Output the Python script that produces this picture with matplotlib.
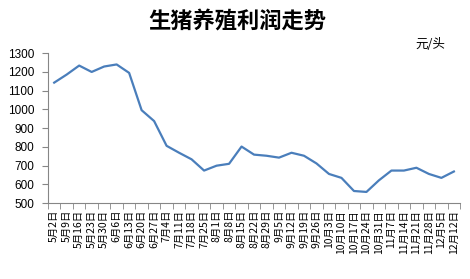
import numpy as np
import matplotlib
matplotlib.use("Agg")
import matplotlib.pyplot as plt
from matplotlib.ticker import FixedLocator, NullFormatter

plt.rcParams['font.family'] = ['Noto Sans CJK SC', 'DejaVu Sans']

# ---------------------------------------------------------------------------
# Données
# ---------------------------------------------------------------------------
dates = [
    "5月2日", "5月9日", "5月16日", "5月23日", "5月30日", "6月6日", "6月13日",
    "6月20日", "6月27日", "7月4日", "7月11日", "7月18日", "7月25日", "8月1日",
    "8月8日", "8月15日", "8月22日", "8月29日", "9月5日", "9月12日", "9月19日",
    "9月26日", "10月3日", "10月10日", "10月17日", "10月24日", "10月31日",
    "11月7日", "11月14日", "11月21日", "11月28日", "12月5日", "12月12日",
]
profit = [
    1142, 1185, 1233, 1199, 1228, 1239, 1194, 995, 937, 805, 768, 733, 673,
    699, 709, 801, 758, 752, 742, 768, 752, 711, 655, 634, 564, 559, 621,
    673, 673, 688, 655, 634, 668,
]
yticks = list(range(500, 1301, 100))

# ---------------------------------------------------------------------------
# Figure
# ---------------------------------------------------------------------------
fig = plt.figure(figsize=(4.7, 2.79), dpi=100)
ax = fig.add_axes([0.102, 0.2724, 0.877, 0.5376])

x = np.arange(len(dates))
ax.plot(x, profit, color="#4A7EBB", linewidth=1.6)

ax.set_xlim(-0.5, len(dates) - 0.5)
ax.set_ylim(500, 1300)
ax.set_yticks(yticks)
ax.set_yticklabels([str(v) for v in yticks], family="Liberation Sans", fontsize=8.5)
ax.tick_params(axis="y", length=4, color="#868686", pad=6)

ax.set_xticks(x)
ax.set_xticklabels(dates, rotation=90, fontsize=7.5, va="top")
ax.tick_params(axis="x", which="major", length=0, pad=5)
ax.xaxis.set_minor_locator(FixedLocator(np.arange(-0.5, len(dates), 1.0)))
ax.xaxis.set_minor_formatter(NullFormatter())
ax.tick_params(axis="x", which="minor", length=4, color="#868686")

for side in ("top", "right"):
    ax.spines[side].set_visible(False)
for side in ("left", "bottom"):
    ax.spines[side].set_color("#868686")

fig.text(0.505, 0.925, "生猪养殖利润走势", ha="center", va="center",
         fontsize=16, fontweight="bold")
fig.text(0.915, 0.84, "元/头", ha="center", va="center", fontsize=9)

fig.savefig("out.png", dpi=100)
